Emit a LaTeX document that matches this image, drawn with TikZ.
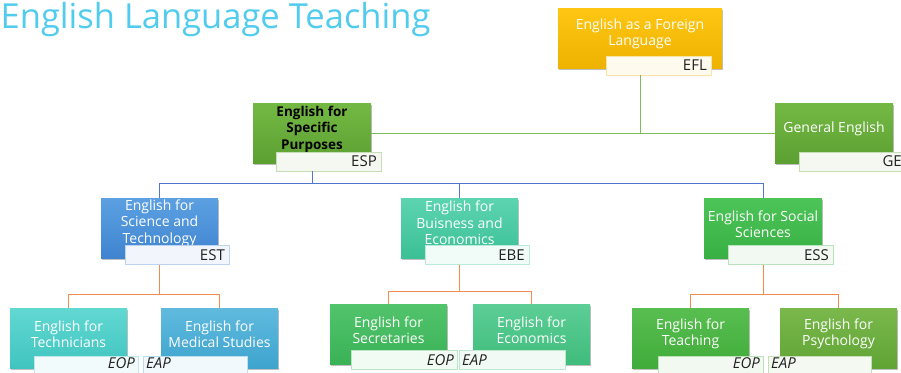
\documentclass[tikz,border=0pt]{standalone}
\usepackage{fontspec}
\setmainfont{Open Sans}
\usetikzlibrary{shadows}
\definecolor{titlec}{RGB}{82,204,238}
\definecolor{eflT}{RGB}{255,198,20}
\definecolor{eflB}{RGB}{238,178,0}
\definecolor{espT}{RGB}{116,184,68}
\definecolor{espB}{RGB}{92,160,50}
\definecolor{estT}{RGB}{92,160,226}
\definecolor{estB}{RGB}{64,132,208}
\definecolor{ebeT}{RGB}{92,212,176}
\definecolor{ebeB}{RGB}{60,192,150}
\definecolor{essT}{RGB}{76,196,88}
\definecolor{essB}{RGB}{56,176,68}
\definecolor{techT}{RGB}{98,216,210}
\definecolor{techB}{RGB}{64,196,192}
\definecolor{medT}{RGB}{96,186,222}
\definecolor{medB}{RGB}{62,164,206}
\definecolor{secT}{RGB}{82,196,108}
\definecolor{secB}{RGB}{58,178,86}
\definecolor{econT}{RGB}{92,206,150}
\definecolor{econB}{RGB}{64,188,124}
\definecolor{teachT}{RGB}{88,190,80}
\definecolor{teachB}{RGB}{64,172,58}
\definecolor{psyT}{RGB}{122,184,76}
\definecolor{psyB}{RGB}{96,164,52}
\definecolor{lgreen}{RGB}{124,186,90}
\definecolor{lblue}{RGB}{80,118,206}
\definecolor{lorange}{RGB}{240,140,80}
\definecolor{tagtext}{RGB}{34,34,34}
\begin{document}
\begin{tikzpicture}[x=1pt,y=-1pt,
  boxst/.style={draw=none, inner sep=0pt, drop shadow={shadow xshift=1pt, shadow yshift=-2pt, opacity=0.25, fill=black}},
  boxtxt/.style={align=center, text=white, font=\fontsize{14}{16.5}\selectfont, inner sep=0pt},
  tagst/.style={draw=#1!35, fill=#1!7, line width=0.8pt, minimum height=19pt, inner sep=0pt},
  taglab/.style={inner sep=0pt, font=\fontsize{15}{16}\selectfont, text=tagtext},
  itlab/.style={taglab, font=\itshape\fontsize{15}{16}\selectfont},
  conn/.style={line width=0.8pt}]
\useasboundingbox (0,0) rectangle (901,372);

\node[anchor=base west, inner sep=0pt, text=titlec, font=\fontsize{34.5}{36}\selectfont] (title) at (0.5,28) {English Language Teaching};

% level 0
\node[boxst, top color=eflT, bottom color=eflB, minimum width=164pt, minimum height=60pt] (efl) at (640,38) {};
\node[boxtxt] (efltxt) at (640,34) {English as a Foreign\\Language};
\node[tagst=eflB, minimum width=105pt] (efltag) at (658.5,65.5) {};
\node[taglab, anchor=east] (efllab) at (707,65.5) {EFL};

% level 1
\node[boxst, top color=espT, bottom color=espB, minimum width=118pt, minimum height=60pt] (esp) at (312,133) {};
\node[boxtxt, text=black, font=\bfseries\fontsize{13.5}{16.5}\selectfont] (esptxt) at (312,129) {English for\\Specific\\Purposes};
\node[tagst=espB, minimum width=105pt] (esptag) at (328.5,161.5) {};
\node[taglab, anchor=east] (esplab) at (377,161.5) {ESP};

\node[boxst, top color=espT, bottom color=espB, minimum width=118pt, minimum height=60pt] (ge) at (834,133) {};
\node[boxtxt] (getxt) at (834,129) {General English};
\node[tagst=espB, minimum width=109pt] (getag) at (853.5,161.5) {};
\node[taglab, anchor=east] (gelab) at (902,161.5) {GE};

% level 2
\node[boxst, top color=estT, bottom color=estB, minimum width=117pt, minimum height=60pt] (est) at (159.5,228) {};
\node[boxtxt] (esttxt) at (159.5,223) {English for\\Science and\\Technology};
\node[tagst=estB, minimum width=104pt] (esttag) at (177,255) {};
\node[taglab, anchor=east] (estlab) at (225,255) {EST};

\node[boxst, top color=ebeT, bottom color=ebeB, minimum width=117pt, minimum height=60pt] (ebe) at (459.5,228) {};
\node[boxtxt] (ebetxt) at (459.5,223) {English for\\Buisness and\\Economics};
\node[tagst=ebeB, minimum width=104pt] (ebetag) at (477,255) {};
\node[taglab, anchor=east] (ebelab) at (525,255) {EBE};

\node[boxst, top color=essT, bottom color=essB, minimum width=118pt, minimum height=60pt] (ess) at (763,228) {};
\node[boxtxt] (esstxt) at (763,224) {English for Social\\Sciences};
\node[tagst=essB, minimum width=105pt] (esstag) at (780.5,255) {};
\node[taglab, anchor=east] (esslab) at (829,255) {ESS};

% level 3
\node[boxst, top color=techT, bottom color=techB, minimum width=117pt, minimum height=60pt] (tech) at (68.5,338) {};
\node[boxtxt] (techtxt) at (68.5,334) {English for\\Technicians};
\node[boxst, top color=medT, bottom color=medB, minimum width=117pt, minimum height=60pt] (med) at (219.5,338) {};
\node[boxtxt] (medtxt) at (219.5,334) {English for\\Medical Studies};
\node[tagst=techB, minimum width=104pt] (techtag) at (86,366) {};
\node[itlab, anchor=east] (techlab) at (135,363) {EOP};
\node[tagst=medB, minimum width=104pt] (medtag) at (195,366) {};
\node[itlab, anchor=west] (medlab) at (146,363) {EAP};

\node[boxst, top color=secT, bottom color=secB, minimum width=117pt, minimum height=60pt] (sec) at (388.5,334) {};
\node[boxtxt] (sectxt) at (388.5,330) {English for\\Secretaries};
\node[boxst, top color=econT, bottom color=econB, minimum width=117pt, minimum height=60pt] (econ) at (531.5,334) {};
\node[boxtxt] (econtxt) at (531.5,330) {English for\\Economics};
\node[tagst=secB, minimum width=106pt] (sectag) at (404,360) {};
\node[itlab, anchor=east] (seclab) at (454,360) {EOP};
\node[tagst=econB, minimum width=106pt] (econtag) at (512,360) {};
\node[itlab, anchor=west] (econlab) at (462,360) {EAP};

\node[boxst, top color=teachT, bottom color=teachB, minimum width=117pt, minimum height=60pt] (teach) at (690.5,338) {};
\node[boxtxt] (teachtxt) at (690.5,334) {English for\\Teaching};
\node[boxst, top color=psyT, bottom color=psyB, minimum width=117pt, minimum height=60pt] (psy) at (838.5,338) {};
\node[boxtxt] (psytxt) at (838.5,334) {English for\\Psychology};
\node[tagst=teachB, minimum width=105pt] (teachtag) at (710.5,366) {};
\node[itlab, anchor=east] (teachlab) at (760,363) {EOP};
\node[tagst=psyB, minimum width=103pt] (psytag) at (819.5,366) {};
\node[itlab, anchor=west] (psylab) at (771,363) {EAP};

% connectors
\draw[conn, lgreen] (efl.center |- efltag.south) -- (efl.center |- esp.east);
\draw[conn, lgreen] (esp.east) -- (ge.west);
\draw[conn, lblue] (esp.center |- esptag.south) -- (312,183) -| (est.north);
\draw[conn, lblue] (312,183) -| (ebe.north);
\draw[conn, lblue] (312,183) -| (ess.north);
\draw[conn, lorange] (est.center |- esttag.south) -- (159.5,294) -| (tech.north);
\draw[conn, lorange] (159.5,294) -| (med.north);
\draw[conn, lorange] (ebe.center |- ebetag.south) -- (459.5,291) -| (sec.north);
\draw[conn, lorange] (459.5,291) -| (econ.north);
\draw[conn, lorange] (ess.center |- esstag.south) -- (763,294) -| (teach.north);
\draw[conn, lorange] (763,294) -| (psy.north);
\end{tikzpicture}
\end{document}
